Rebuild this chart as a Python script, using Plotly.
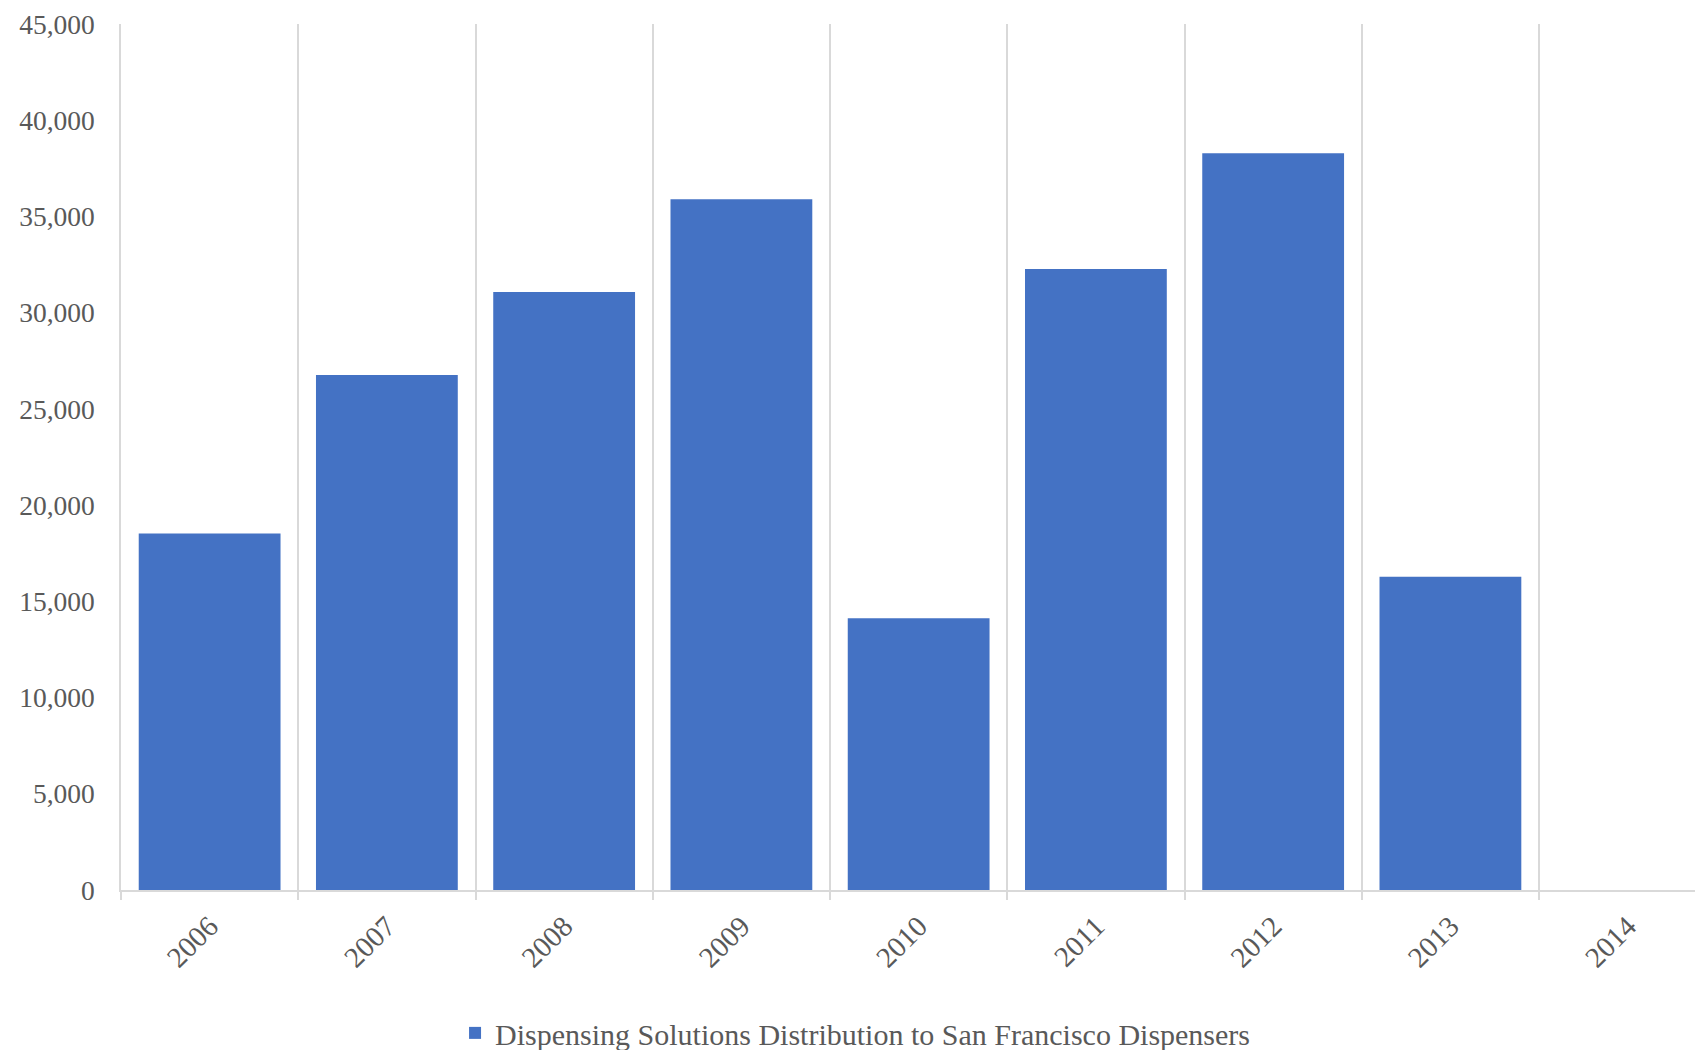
import plotly.graph_objects as go

years = ["2006", "2007", "2008", "2009", "2010", "2011", "2012", "2013", "2014"]
values = [18530, 26760, 31080, 35890, 14120, 32270, 38280, 16280, 0]
series_name = "Dispensing Solutions Distribution to San Francisco Dispensers"
y_ticks = [0, 5000, 10000, 15000, 20000, 25000, 30000, 35000, 40000, 45000]
y_tick_labels = ["0", "5,000", "10,000", "15,000", "20,000", "25,000", "30,000", "35,000", "40,000", "45,000"]

font_family = "Liberation Serif, DejaVu Serif, serif"
grey = "#595959"

fig = go.Figure()
fig.add_trace(go.Bar(
    x=years,
    y=values,
    name=series_name,
    marker=dict(color="#4472C4", line=dict(width=0)),
    showlegend=True,
))

fig.update_layout(
    width=1695,
    height=1042,
    margin=dict(l=113, r=0, t=16, b=160, autoexpand=False),
    paper_bgcolor="white",
    plot_bgcolor="white",
    bargap=0.2,
    font=dict(family=font_family, color=grey, size=27),
    showlegend=True,
    legend=dict(
        orientation="h",
        x=0.464,
        xanchor="center",
        y=-0.165,
        yanchor="middle",
        font=dict(family=font_family, size=30, color=grey),
        itemwidth=30,
    ),
    xaxis=dict(
        type="category",
        range=[-0.5, 8.425],
        tickson="boundaries",
        automargin=False,
        showgrid=True,
        gridcolor="#d9d9d9",
        gridwidth=1.5,
        showline=True,
        linecolor="#d9d9d9",
        linewidth=1.5,
        ticks="outside",
        ticklen=8,
        tickcolor="#d9d9d9",
        tickwidth=1.5,
        tickangle=-45,
        ticklabelstandoff=6,
        tickfont=dict(family=font_family, size=29, color=grey),
        zeroline=False,
    ),
    yaxis=dict(
        range=[0, 45000],
        tickvals=y_ticks,
        ticktext=y_tick_labels,
        automargin=False,
        showgrid=False,
        showline=True,
        linecolor="#d9d9d9",
        linewidth=1.5,
        zeroline=False,
        ticks="",
        ticklabelstandoff=19,
        tickfont=dict(family=font_family, size=27.5, color=grey),
    ),
)

fig.write_html("out.html")
